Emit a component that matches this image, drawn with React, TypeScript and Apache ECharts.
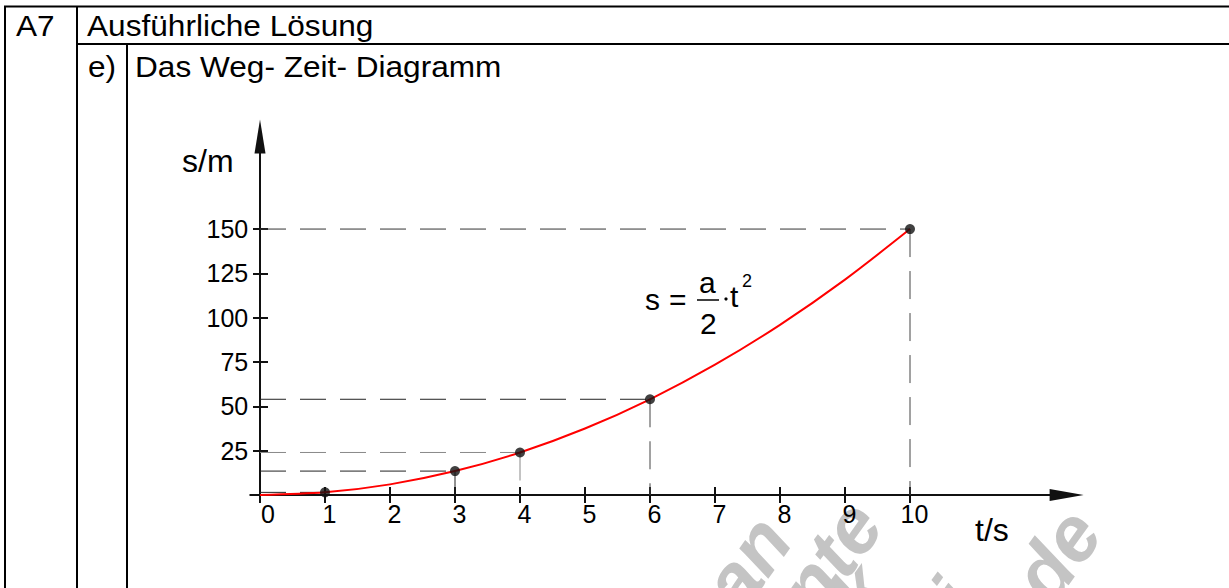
import React, { useEffect, useRef } from "react";
import * as echarts from "echarts";

// curve s(t) (s = a/2 * t^2)
const curveT = [0, 1, 2, 3, 4, 5, 6, 7, 8, 9, 10];
const curveS = [0, 1.5, 6, 13.5, 24, 37.5, 54, 73.5, 96, 121.5, 150];
// marked points
const markedT = [1, 3, 4, 6, 10];
const markedS = [1.5, 13.5, 24, 54, 150];
// tick labels
const xTickValues = [0, 1, 2, 3, 4, 5, 6, 7, 8, 9, 10];
const yTickValues = [25, 50, 75, 100, 125, 150];

const FONT = "'Liberation Sans', Arial, sans-serif";
const INK = "#111";
const guideColorsH = ["#222", "#222", "#888", "#222", "#333"];
const guideColorsV = ["#222", "#222", "#888", "#444", "#444"];

export default function App() {
  const ref = useRef<HTMLDivElement>(null);
  useEffect(() => {
    document.body.style.margin = "0";
    const chart = echarts.init(ref.current!, null, { renderer: "svg" });

    const guideSeries: any[] = [];
    markedT.forEach((t, i) => {
      const s = markedS[i];
      guideSeries.push({
        type: "line",
        xAxisIndex: 0,
        yAxisIndex: 0,
        data: [[0, s], [t, s]],
        symbol: "none",
        silent: true,
        z: 1,
        lineStyle: { color: guideColorsH[i], width: 1, type: [26, 14] },
      });
      guideSeries.push({
        type: "line",
        xAxisIndex: 0,
        yAxisIndex: 0,
        data: [[t, s], [t, 0]],
        symbol: "none",
        silent: true,
        z: 1,
        lineStyle: { color: guideColorsV[i], width: 1, type: [28, 14] },
      });
    });

    const tickStyle = { color: INK, width: 2 };
    const eqFont = { fontFamily: FONT, fontSize: 30, fill: "#000" };
    const headFont = { fontFamily: FONT, fontSize: 29, fill: "#000" };
    const nameFont = { fontFamily: FONT, fontSize: 32, fill: "#000" };
    const wmStyle = {
      fontFamily: FONT,
      fontSize: 78,
      fontWeight: "bold",
      fontStyle: "italic",
      fill: "#c4c4c4",
      align: "left",
      verticalAlign: "bottom",
    };

    chart.setOption({
      animation: false,
      backgroundColor: "#fff",
      grid: {
        left: 250.25,
        width: 816.4,
        top: 136.5,
        height: 360.3,
        outerBoundsMode: "none",
      },
      xAxis: [
        {
          type: "value",
          min: -0.15,
          max: 12.41,
          position: "bottom",
          axisLine: {
            onZero: true,
            onZeroAxisIndex: 0,
            symbol: ["none", "triangle"],
            symbolSize: [12, 34],
            lineStyle: { color: INK, width: 2 },
          },
          axisTick: { show: true, customValues: xTickValues, length: 8, lineStyle: tickStyle },
          axisLabel: {
            customValues: xTickValues,
            fontFamily: FONT,
            fontSize: 25,
            color: "#000",
            margin: 5,
            padding: [0, 0, 0, 9],
            formatter: (v: number) => (v === 0 ? " 0" : String(v)),
          },
          splitLine: { show: false },
        },
        {
          type: "value",
          min: -0.15,
          max: 12.41,
          position: "bottom",
          axisLine: { show: false, onZero: true, onZeroAxisIndex: 0 },
          axisTick: { show: true, inside: true, customValues: xTickValues.slice(1), length: 8, lineStyle: tickStyle },
          axisLabel: { show: false },
          splitLine: { show: false },
        },
      ],
      yAxis: [
        {
          type: "value",
          min: -1,
          max: 202.2,
          position: "left",
          axisLine: {
            onZero: true,
            onZeroAxisIndex: 0,
            symbol: ["none", "triangle"],
            symbolSize: [11, 34],
            lineStyle: { color: INK, width: 2 },
          },
          axisTick: { show: true, customValues: yTickValues, length: 7, lineStyle: tickStyle },
          axisLabel: {
            customValues: yTickValues,
            fontFamily: FONT,
            fontSize: 25,
            color: "#000",
            margin: 2,
          },
          splitLine: { show: false },
        },
        {
          type: "value",
          min: -1,
          max: 202.2,
          position: "left",
          axisLine: { show: false, onZero: true, onZeroAxisIndex: 0 },
          axisTick: { show: true, inside: true, customValues: yTickValues, length: 8, lineStyle: tickStyle },
          axisLabel: { show: false },
          splitLine: { show: false },
        },
      ],
      series: [
        ...guideSeries,
        {
          type: "line",
          xAxisIndex: 0,
          yAxisIndex: 0,
          data: curveT.map((t, i) => [t, curveS[i]]),
          smooth: 0.3,
          showSymbol: false,
          symbol: "none",
          z: 3,
          lineStyle: { color: "#ff0000", width: 2 },
        },
        {
          type: "scatter",
          xAxisIndex: 0,
          yAxisIndex: 0,
          data: markedT.map((t, i) => [t, markedS[i]]),
          symbolSize: 10,
          z: 5,
          itemStyle: { color: "#111" },
        },
      ],
      graphic: [
        // table frame
        { type: "line", shape: { x1: 4, y1: 6.5, x2: 1229, y2: 6.5 }, style: { stroke: "#000", lineWidth: 2 } },
        { type: "line", shape: { x1: 5, y1: 6, x2: 5, y2: 588 }, style: { stroke: "#000", lineWidth: 2 } },
        { type: "line", shape: { x1: 77, y1: 6, x2: 77, y2: 588 }, style: { stroke: "#000", lineWidth: 2 } },
        { type: "line", shape: { x1: 77, y1: 44, x2: 1229, y2: 44 }, style: { stroke: "#000", lineWidth: 2 } },
        { type: "line", shape: { x1: 127, y1: 44, x2: 127, y2: 588 }, style: { stroke: "#000", lineWidth: 2 } },
        { type: "text", x: 16, y: 26, scaleX: 1.09, style: { ...headFont, text: "A7", verticalAlign: "middle" } },
        { type: "text", x: 87, y: 26, scaleX: 1.09, style: { ...headFont, text: "Ausführliche Lösung", verticalAlign: "middle" } },
        { type: "text", x: 88, y: 67, scaleX: 1.09, style: { ...headFont, text: "e)", verticalAlign: "middle" } },
        { type: "text", x: 135, y: 67, scaleX: 1.09, style: { ...headFont, text: "Das Weg- Zeit- Diagramm", verticalAlign: "middle" } },
        // axis names
        { type: "text", x: 182, y: 161, style: { ...nameFont, text: "s/m", verticalAlign: "middle" } },
        { type: "text", x: 975, y: 530, style: { ...nameFont, text: "t/s", verticalAlign: "middle" } },
        // equation
        { type: "text", x: 645, y: 299, style: { ...eqFont, text: "s", verticalAlign: "middle" } },
        { type: "text", x: 669, y: 299, style: { ...eqFont, text: "=", verticalAlign: "middle" } },
        { type: "text", x: 699, y: 282, style: { ...eqFont, text: "a", verticalAlign: "middle" } },
        { type: "line", shape: { x1: 697, y1: 300, x2: 719, y2: 300 }, style: { stroke: "#000", lineWidth: 1.5 } },
        { type: "text", x: 700, y: 323, style: { ...eqFont, text: "2", verticalAlign: "middle" } },
        { type: "circle", shape: { cx: 726, cy: 299, r: 1.6 }, style: { fill: "#000" } },
        { type: "text", x: 730, y: 296, style: { ...eqFont, text: "t", verticalAlign: "middle" } },
        { type: "text", x: 742, y: 281, style: { ...eqFont, fontSize: 18, text: "2", verticalAlign: "middle" } },
        // watermark fragments
        { type: "text", x: 752, y: 622, rotation: 0.95, style: { ...wmStyle, text: "an" } },
        { type: "text", x: 828, y: 628, rotation: 0.95, style: { ...wmStyle, text: "nte" } },
        { type: "text", x: 878, y: 632, rotation: 0.95, style: { ...wmStyle, text: "k" } },
        { type: "text", x: 980, y: 630, rotation: 0.95, style: { ...wmStyle, text: "i" } },
        { type: "text", x: 1062, y: 615, rotation: 0.95, style: { ...wmStyle, text: "de" } },
      ],
    });
    return () => chart.dispose();
  }, []);
  return <div ref={ref} style={{ width: 1229, height: 588 }} />;
}
